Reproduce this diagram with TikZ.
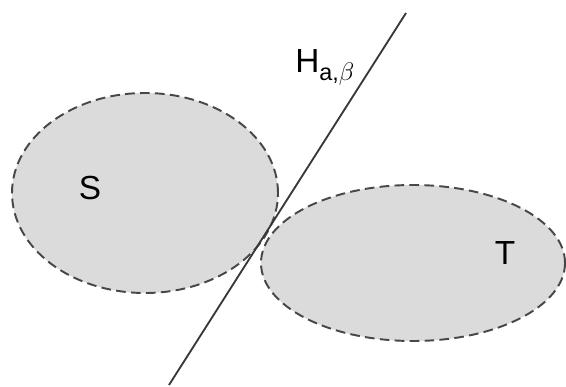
\documentclass[tikz,border=0pt]{standalone}
\usepackage{fontspec}
\setmainfont{Liberation Sans}
\usetikzlibrary{shapes.geometric}

\begin{document}
\begin{tikzpicture}[
  font=\fontsize{19}{22}\selectfont,
  region/.style={ellipse, draw=black!72, fill=black!14, line width=1.1pt,
                 dash pattern=on 5.5pt off 3pt, inner sep=0pt},
  lbl/.style={inner sep=0pt},
  sep/.style={draw=black!78, line width=1.05pt}]

\useasboundingbox (0,0) rectangle (11.32,7.74);
\node[region, minimum width=5.32cm, minimum height=4.0cm] (setS) at (2.90,3.88) {};
\node[region, minimum width=6.08cm, minimum height=3.12cm] (setT) at (8.26,2.48) {};
\node[lbl] (labS) at (1.80,3.98) {S};
\node[lbl] (labT) at (10.10,2.68) {T};

\coordinate (hlo) at (3.38,0.04);
\coordinate (hhi) at (8.12,7.48);
\draw[sep] (hlo) -- (hhi);
\node[lbl, anchor=base west] (labH) at (5.90,6.28) {H\textsubscript{a,$\beta$}};
\end{tikzpicture}
\end{document}
